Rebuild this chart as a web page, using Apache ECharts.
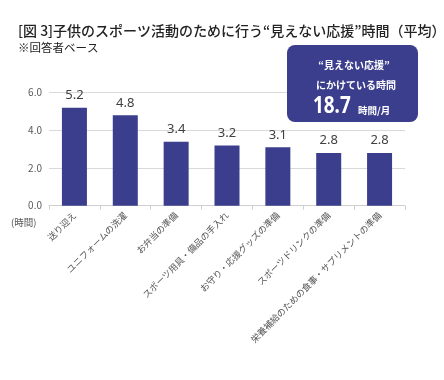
<!DOCTYPE html>
<html><head><meta charset="utf-8">
<script src="https://cdn.jsdelivr.net/npm/echarts@6/dist/echarts.min.js"></script>
<style>html,body{margin:0;padding:0;background:#fff}#c{width:444px;height:380px}</style>
</head><body><div id="c"></div>
<script>
const categories = ['送り迎え','ユニフォームの洗濯','お弁当の準備','スポーツ用具・備品の手入れ','お守り・応援グッズの準備','スポーツドリンクの準備','栄養補給のための食事・サプリメントの準備'];
const hours = [5.2, 4.8, 3.4, 3.2, 3.1, 2.8, 2.8];
const yTicks = [0, 2, 4, 6];
const totalHours = '18.7';

const FONT = '"Noto Sans CJK JP", "Noto Sans", sans-serif';
const chart = echarts.init(document.getElementById('c'), null, {renderer:'canvas'});
chart.setOption({
  animation: false,
  backgroundColor: '#fff',
  textStyle: {fontFamily: FONT},
  grid: {left: 49, right: 39, top: 92.7, bottom: 174.3, containLabel: false},
  xAxis: {
    type: 'category', data: categories,
    axisLine: {lineStyle: {color: '#cfcfcf'}},
    axisTick: {show: true, length: 4, lineStyle: {color: '#cfcfcf'}},
    axisLabel: {rotate: 45, interval: 0, fontSize: 9, color: '#555', margin: 8, fontFamily: FONT}
  },
  yAxis: {
    type: 'value', min: yTicks[0], max: yTicks[yTicks.length-1], interval: 2,
    axisLine: {show: false}, axisTick: {show: false},
    axisLabel: {fontSize: 10, color: '#595959', margin: 7, formatter: v => v.toFixed(1), fontFamily: FONT},
    splitLine: {lineStyle: {color: '#d9d9d9'}}
  },
  series: [{
    type: 'bar', data: hours, barWidth: 25,
    itemStyle: {color: '#3b3e8c'},
    label: {show: true, position: 'top', distance: 6, fontSize: 13, color: '#404040', formatter: p => p.value.toFixed(1), fontFamily: '"Noto Sans", sans-serif'}
  }],
  graphic: [
    {type: 'text', left: 18, top: 24, style: {text: '[図 3]子供のスポーツ活動のために行う“見えない応援”時間（平均）', fontSize: 14, fontWeight: 500, fill: '#222', fontFamily: FONT}},
    {type: 'text', left: 18, top: 42, style: {text: '※回答者ベース', fontSize: 11.5, fill: '#222', fontFamily: FONT}},
    {type: 'text', left: 11, top: 218, style: {text: '(時間)', fontSize: 9.5, fill: '#555', fontFamily: FONT}},
    {type: 'rect', shape: {x: 287, y: 45, width: 131, height: 77, r: 8}, style: {fill: '#3b3e8c'}, z: 100},
    {type: 'text', x: 354, y: 65, z: 101, style: {text: '“見えない応援”', fontSize: 10, fontWeight: 'bold', fill: '#fff', align: 'center', verticalAlign: 'middle', fontFamily: FONT}},
    {type: 'text', x: 356, y: 85, z: 101, style: {text: 'にかけている時間', fontSize: 10, fontWeight: 'bold', fill: '#fff', align: 'center', verticalAlign: 'middle', fontFamily: FONT}},
    {type: 'text', x: 313, y: 106.5, scaleX: 0.82, z: 101, style: {text: totalHours, fontSize: 23, fontWeight: 'bold', fill: '#fff', align: 'left', verticalAlign: 'middle', fontFamily: '"Noto Sans", sans-serif'}},
    {type: 'text', x: 358, y: 110, z: 101, style: {text: '時間/月', fontSize: 9.5, fontWeight: 'bold', fill: '#fff', align: 'left', verticalAlign: 'middle', fontFamily: FONT}}
  ]
});
</script></body></html>
